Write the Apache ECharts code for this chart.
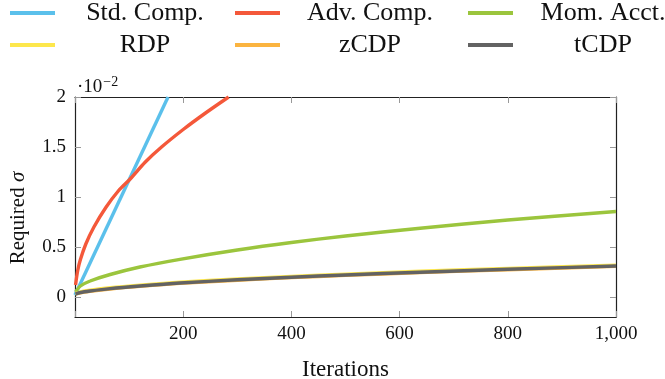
<!DOCTYPE html>
<html>
<head>
<meta charset="utf-8">
<script src="https://cdn.jsdelivr.net/npm/echarts@6/dist/echarts.min.js"></script>
<style>
  html, body { margin: 0; padding: 0; background: #fff; }
  #container { width: 665px; height: 379px; }
</style>
</head>
<body>
<div id="container"></div>
<script>
// values, sigma in units of 1e-2
var names = ['Std. Comp.', 'Adv. Comp.', 'Mom. Acct.', 'RDP', 'zCDP', 'tCDP'];
var colors = ['#5bc0eb', '#f4583a', '#9bc53d', '#fde74c', '#fbb440', '#636363'];

var stdIters = [0, 172];
var stdSigma = [0.02, 2.0];

var advIters = [1, 5, 10, 20, 35, 57, 80, 102, 130, 160, 200, 240, 284];
var advSigma = [0.12, 0.265, 0.375, 0.53, 0.70, 0.895, 1.06, 1.18, 1.35, 1.5, 1.675, 1.835, 2.0];

var iters = [1, 10, 28, 65, 120, 194, 300, 400, 500, 638, 800, 1000];
var momSigma = [0.05, 0.11, 0.16, 0.225, 0.30, 0.377, 0.47, 0.545, 0.61, 0.687, 0.77, 0.855];
var rdpSigma = [0.035, 0.052, 0.068, 0.092, 0.118, 0.148, 0.180, 0.206, 0.228, 0.257, 0.286, 0.318];
var zcdpSigma = [0.028, 0.042, 0.057, 0.080, 0.106, 0.136, 0.168, 0.194, 0.216, 0.244, 0.273, 0.306];
var tcdpSigma = [0.030, 0.045, 0.060, 0.084, 0.110, 0.140, 0.172, 0.198, 0.220, 0.248, 0.277, 0.310];

var yTicks = [0, 0.5, 1, 1.5, 2];

var font = 'Liberation Serif';

function pairs(xs, ys) {
    return xs.map(function (x, i) { return [x, ys[i]]; });
}

var seriesData = [
    pairs(stdIters, stdSigma),
    pairs(advIters, advSigma),
    pairs(iters, momSigma),
    pairs(iters, rdpSigma),
    pairs(iters, zcdpSigma),
    pairs(iters, tcdpSigma)
];

var dom = document.getElementById('container');
var myChart = echarts.init(dom, null, {renderer: 'canvas'});

// legend: 3 columns x 2 rows, text centred in its cell like pgfplots
var legendCols = [10, 235, 468];
var legendRows = [0, 32];
var legends = names.map(function (n, i) {
    return {
        data: [n],
        left: legendCols[i % 3],
        top: legendRows[Math.floor(i / 3)],
        padding: 0,
        itemWidth: 45,
        itemHeight: 4,
        icon: 'rect',
        selectedMode: false,
        formatter: function (name) { return '{c|' + name + '}'; },
        textStyle: {
            rich: {
                c: {width: 170, align: 'center', fontFamily: font, fontSize: 26, color: '#111', lineHeight: 30}
            }
        }
    };
});

var series = names.map(function (n, i) {
    return {
        name: n,
        type: 'line',
        data: seriesData[i],
        smooth: 0.3,
        showSymbol: false,
        symbol: 'none',
        clip: true,
        color: colors[i],
        lineStyle: {width: 3.4, color: colors[i]},
        animation: false
    };
});

var tickStyle = {show: true, inside: true, length: 6, lineStyle: {color: '#999', width: 1}};
var lineStyle = {show: true, onZero: false, lineStyle: {color: '#222', width: 1.2}};

var option = {
    animation: false,
    backgroundColor: '#fff',
    legend: legends,
    grid: {left: 75, right: 49, top: 97, bottom: 62, containLabel: false, outerBoundsMode: 'none'},
    xAxis: [{
        type: 'value', min: 0, max: 1000, interval: 200,
        axisLine: lineStyle,
        axisTick: tickStyle,
        splitLine: {show: false},
        axisLabel: {
            margin: 8, fontFamily: font, fontSize: 19, color: '#111',
            formatter: function (v) { return v === 0 ? '' : v.toLocaleString('en-US'); }
        },
        name: 'Iterations', nameLocation: 'middle', nameGap: 41,
        nameTextStyle: {fontFamily: font, fontSize: 23, color: '#111'}
    }, {
        type: 'value', min: 0, max: 1000, interval: 200, position: 'top',
        axisLine: lineStyle, axisTick: tickStyle,
        splitLine: {show: false}, axisLabel: {show: false}
    }],
    yAxis: [{
        type: 'value', min: -0.2, max: 2,
        axisLine: lineStyle,
        axisTick: Object.assign({customValues: yTicks}, tickStyle),
        splitLine: {show: false},
        axisLabel: {
            customValues: yTicks, margin: 9, fontFamily: font, fontSize: 19, color: '#111'
        },
        name: 'Required {i|σ}', nameLocation: 'middle', nameGap: 46, nameRotate: 90,
        nameTextStyle: {
            fontFamily: font, fontSize: 21, color: '#111', padding: [0, 22, 0, 0],
            rich: {i: {fontFamily: font, fontStyle: 'italic', fontSize: 21, color: '#111'}}
        }
    }, {
        type: 'value', min: -0.2, max: 2, position: 'right',
        axisLine: lineStyle,
        axisTick: Object.assign({customValues: yTicks}, tickStyle),
        splitLine: {show: false}, axisLabel: {show: false}
    }],
    graphic: [{
        type: 'text', left: 77, top: 75,
        style: {
            text: '·10{s|−2}', fontFamily: font, fontSize: 19, fill: '#111',
            rich: {s: {fontFamily: font, fontSize: 14, fill: '#111', padding: [0, 0, 10, 1]}}
        }
    }],
    series: series
};
myChart.setOption(option, true);
</script>
</body>
</html>
